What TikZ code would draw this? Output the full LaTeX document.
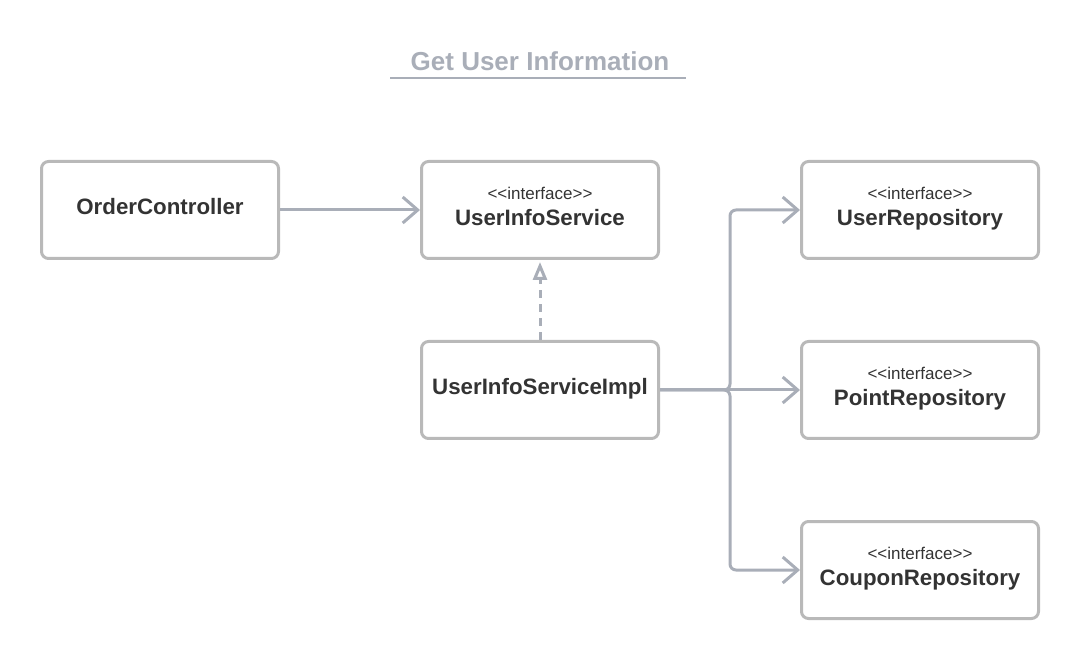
\documentclass[tikz,border=0pt]{standalone}
\usepackage{fontspec}
\setmainfont{Liberation Sans}
\usetikzlibrary{arrows.meta}
\definecolor{boxgray}{HTML}{B9B9B9}
\definecolor{linegray}{HTML}{A9AEB8}
\definecolor{textdark}{HTML}{333333}
\newcommand{\stereo}{{\fontsize{17}{19}\selectfont\mdseries <{}<interface>{}>}}
\begin{document}
\begin{tikzpicture}[x=1pt,y=-1pt]
				\tikzstyle{Box} = [rectangle, draw=boxgray, line width=3pt, rounded corners=7pt, minimum width=237pt, minimum height=97pt, text depth=7pt, align=center, text=textdark, font=\fontsize{22.3}{24}\selectfont\bfseries]
				\tikzstyle{Link} = [draw=linegray, line width=3pt, rounded corners=6pt, -{Straight Barb[length=15pt, width=26pt, line width=3pt]}]
				\tikzstyle{Impl} = [draw=linegray, line width=3pt, dash pattern=on 8pt off 6pt, -{Triangle[open, length=18pt, width=14pt, line width=3pt]}]
				\useasboundingbox (0,0) rectangle (1080,660);
				\node (title) at (540,61) [text=linegray, font=\fontsize{26}{28}\selectfont\bfseries] {Get User Information};
				\draw [linegray, line width=2.5pt] (390,78) -- (686,78);
				\node (oc) at (160,210) [Box] {OrderController};
				\node (uis) at (540,210) [Box] {\stereo\\[2pt] UserInfoService};
				\node (impl) at (540,390) [Box] {UserInfoServiceImpl};
				\node (ur) at (920,210) [Box] {\stereo\\[2pt] UserRepository};
				\node (pr) at (920,390) [Box] {\stereo\\[2pt] PointRepository};
				\node (cr) at (920,570) [Box] {\stereo\\[2pt] CouponRepository};
				\coordinate (fork) at (730,390);
				\draw [Link] (oc) to (uis);
				\draw [Impl] (impl) to ([yshift=-2pt]uis.south);
				\draw [Link] (impl.east) -- (fork) |- (ur.west);
				\draw [Link] (impl.east) -- (fork) -- (pr.west);
				\draw [Link] (impl.east) -- (fork) |- (cr.west);
			\end{tikzpicture}
\end{document}
